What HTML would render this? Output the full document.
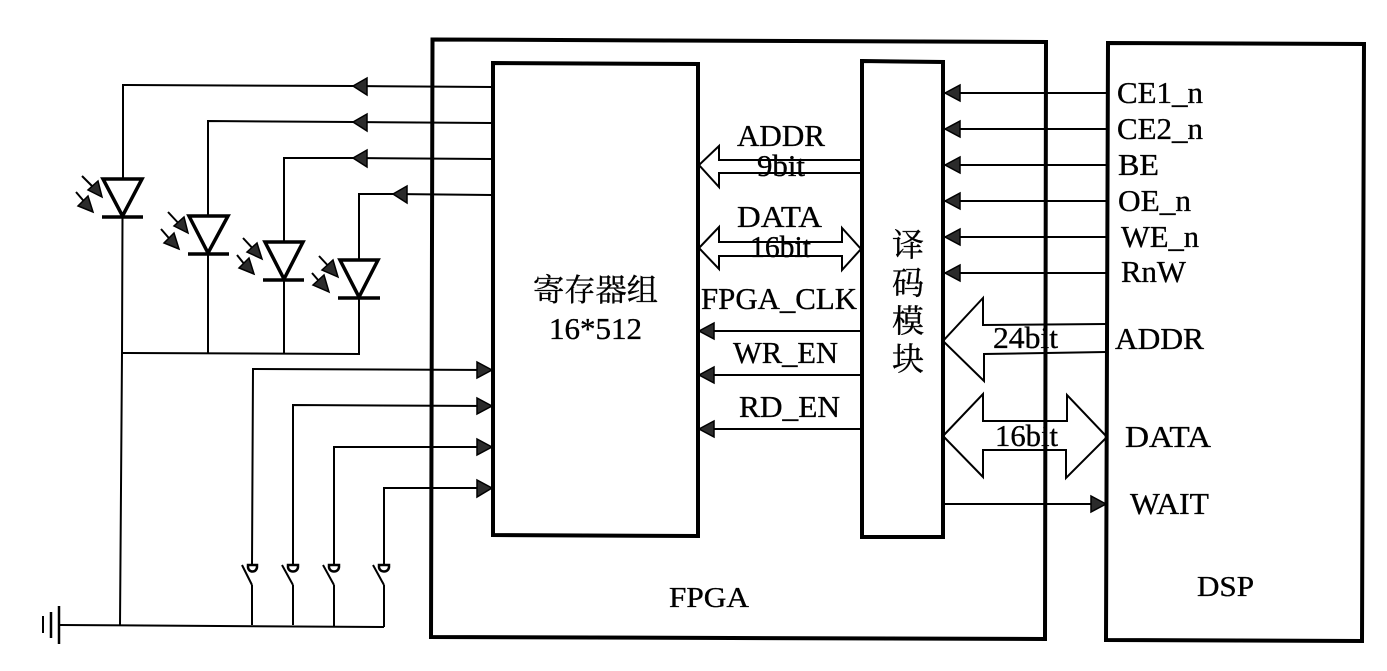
<!DOCTYPE html>
<html><head><meta charset="utf-8"><style>
html,body{margin:0;padding:0;background:#fff}
svg{display:block}
text{font-family:"Liberation Serif","Noto Serif CJK SC",serif;fill:#000;stroke:#000;stroke-width:.35px;font-size:31px}
</style></head><body>
<svg width="1387" height="671" viewBox="0 0 1387 671" xmlns="http://www.w3.org/2000/svg">
<rect width="1387" height="671" fill="#fff"/>
<g fill="none" stroke="#000">
<!-- boxes -->
<g stroke-width="4">
<polygon points="432.500,39.500 1046,42 1045,639 431,637"/>
<polygon points="493,63 698,64 698,536 493,535"/>
<polygon points="862,61 943,62 943,537 862,537"/>
<polygon points="1108,43 1364,44 1362,641 1106,640"/>
</g>
<g stroke-width="2">
<!-- LED wires -->
<polyline points="492,87 353,86 123,85 123,179"/>
<polyline points="492,123 353,122 208,121 208,216"/>
<polyline points="492,159 353,158 284,158 284,242"/>
<polyline points="492,195 393,194 359,194 359,260"/>
<polyline points="122.500,218 122,353 120,625"/>
<line x1="208" y1="254" x2="208" y2="353"/>
<line x1="284" y1="280" x2="284" y2="354"/>
<polyline points="359,298 359,354 122,353"/>
<!-- switch wires -->
<polyline points="252,565 253,369 492,370"/>
<polyline points="293,565 293,405 492,406"/>
<polyline points="334,565 334,447 492,447"/>
<polyline points="384,565 384,488 492,488"/>
<polyline points="252,585 252,625"/>
<polyline points="293,585 293,625"/>
<polyline points="334,585 334,626"/>
<polyline points="384,585 384,627"/>
<polyline points="60,625 384,627"/>
<line x1="242" y1="565" x2="252" y2="585"/>
<line x1="282" y1="565" x2="293" y2="585"/>
<line x1="323" y1="565" x2="334" y2="585"/>
<line x1="373" y1="565" x2="384" y2="585"/>
<!-- signals -->
<line x1="699" y1="331" x2="861" y2="331"/>
<line x1="699" y1="375" x2="861" y2="375"/>
<line x1="699" y1="429" x2="861" y2="429"/>
<line x1="945" y1="93" x2="1107" y2="93"/>
<line x1="945" y1="129" x2="1107" y2="129"/>
<line x1="945" y1="165" x2="1107" y2="165"/>
<line x1="945" y1="201" x2="1107" y2="201"/>
<line x1="945" y1="237" x2="1107" y2="237"/>
<line x1="945" y1="273" x2="1107" y2="273"/>
<line x1="943" y1="504" x2="1105" y2="504"/>
<!-- hollow buses -->
<polyline points="861,160 719,160 719,146 699,165 719,187 719,173 861,173"/>
<polygon points="699,248 719,227 719,242 842,242 842,228 861,249 842,270 842,256 719,256 719,269"/>
<polyline points="1106,324 983,325 983,298 943,341 984,381 984,354 1106,352"/>
<polygon points="943,436 983,394 983,421 1067,421 1067,395 1107,437 1066,478 1066,450 983,450 983,477"/>
</g>
<!-- ground -->
<line x1="59" y1="606" x2="59" y2="644" stroke-width="2.500"/>
<line x1="51" y1="612" x2="51" y2="638" stroke-width="2.500"/>
<line x1="43" y1="616" x2="43" y2="633" stroke-width="2"/>
<!-- LEDs -->
<g stroke-width="3.500">
<polygon points="103,179 142,179 122.500,216"/>
<polygon points="189,216 228,216 208,253"/>
<polygon points="265,242 303,242 284,279"/>
<polygon points="340,260 378,260 359,297"/>
</g>
<g stroke-width="3.500">
<line x1="102" y1="217" x2="143" y2="217"/>
<line x1="188" y1="254" x2="229" y2="254"/>
<line x1="263" y1="280" x2="304" y2="280"/>
<line x1="338" y1="298" x2="380" y2="298"/>
</g>
<!-- LED light rays -->
<g stroke-width="2">
<line x1="82" y1="176" x2="96" y2="190"/>
<line x1="76" y1="192" x2="88" y2="206"/>
<line x1="168" y1="212" x2="182" y2="227"/>
<line x1="161" y1="229" x2="174" y2="244"/>
<line x1="243" y1="238" x2="257" y2="253"/>
<line x1="237" y1="255" x2="249" y2="270"/>
<line x1="319" y1="256" x2="333" y2="271"/>
<line x1="312" y1="273" x2="325" y2="288"/>
</g>
<!-- switch contacts -->
<g stroke-width="2.500">
<path d="M248,565 H257 V567 A4.500,4.500 0 0 1 248,567Z"/>
<path d="M288,565 H298 V567 A5,4.500 0 0 1 288,567Z"/>
<path d="M329,565 H339 V567 A5,4.500 0 0 1 329,567Z"/>
<path d="M379,565 H389 V567 A5,4.500 0 0 1 379,567Z"/>
</g>
</g>
<!-- solid arrowheads -->
<g fill="#2b2b2b" stroke="#000" stroke-width="1.500">
<polygon points="353,86 367,78 367,95"/>
<polygon points="353,122 367,114 367,131"/>
<polygon points="353,158 367,150 367,167"/>
<polygon points="393,194 407,186 407,203"/>
<polygon points="492,370 477,362 477,378"/>
<polygon points="492,406 477,398 477,414"/>
<polygon points="492,447 477,439 477,455"/>
<polygon points="492,488 477,480 477,497"/>
<polygon points="699,331 714,323 714,339"/>
<polygon points="699,375 714,367 714,383"/>
<polygon points="699,429 714,421 714,437"/>
<polygon points="945,93 960,85 960,101"/>
<polygon points="945,129 960,121 960,137"/>
<polygon points="945,165 960,157 960,173"/>
<polygon points="945,201 960,193 960,209"/>
<polygon points="945,237 960,229 960,245"/>
<polygon points="945,273 960,265 960,281"/>
<polygon points="1106,504 1091,496 1091,512"/>
<!-- ray heads -->
<polygon points="102,197 88,190 98,181"/>
<polygon points="93,212 78,206 88,196"/>
<polygon points="188,233 174,226 184,217"/>
<polygon points="179,249 164,243 174,233"/>
<polygon points="262,259 247,252 257,243"/>
<polygon points="254,274 239,268 249,258"/>
<polygon points="338,277 322,270 333,260"/>
<polygon points="329,292 313,285 324,275"/>
</g>
<!-- labels -->
<g>
<text x="1117" y="103" textLength="86" lengthAdjust="spacingAndGlyphs">CE1_n</text>
<text x="1117" y="139" textLength="86" lengthAdjust="spacingAndGlyphs">CE2_n</text>
<text x="1118" y="175" textLength="41" lengthAdjust="spacingAndGlyphs">BE</text>
<text x="1118" y="211" textLength="73" lengthAdjust="spacingAndGlyphs">OE_n</text>
<text x="1121" y="247" textLength="78" lengthAdjust="spacingAndGlyphs">WE_n</text>
<text x="1121" y="282" textLength="65" lengthAdjust="spacingAndGlyphs">RnW</text>
<text x="1115" y="349" textLength="89" lengthAdjust="spacingAndGlyphs">ADDR</text>
<text x="1125" y="447" textLength="86" lengthAdjust="spacingAndGlyphs">DATA</text>
<text x="1130" y="514" textLength="79" lengthAdjust="spacingAndGlyphs">WAIT</text>
<text x="993" y="348" textLength="65" lengthAdjust="spacingAndGlyphs">24bit</text>
<text x="995" y="446" textLength="63" lengthAdjust="spacingAndGlyphs">16bit</text>
<text x="737" y="146" textLength="88" lengthAdjust="spacingAndGlyphs">ADDR</text>
<text x="757" y="176" textLength="48" lengthAdjust="spacingAndGlyphs">9bit</text>
<text x="737" y="227" textLength="85" lengthAdjust="spacingAndGlyphs">DATA</text>
<text x="750" y="257" textLength="61" lengthAdjust="spacingAndGlyphs">16bit</text>
<text x="701" y="309" textLength="156" lengthAdjust="spacingAndGlyphs">FPGA_CLK</text>
<text x="733" y="363" textLength="105" lengthAdjust="spacingAndGlyphs">WR_EN</text>
<text x="739" y="417" textLength="101" lengthAdjust="spacingAndGlyphs">RD_EN</text>
<text x="533" y="301" textLength="125" lengthAdjust="spacingAndGlyphs">寄存器组</text>
<text x="549" y="339" textLength="93" lengthAdjust="spacingAndGlyphs">16*512</text>
<text x="669" y="607" textLength="80" lengthAdjust="spacingAndGlyphs" style="font-size:29px">FPGA</text>
<text x="1197" y="596" textLength="57" lengthAdjust="spacingAndGlyphs" style="font-size:29px">DSP</text>
<text x="892" y="256" style="font-size:32px">译</text>
<text x="892" y="294" style="font-size:32px">码</text>
<text x="892" y="332" style="font-size:32px">模</text>
<text x="892" y="370" style="font-size:32px">块</text>
</g>
</svg>
</body></html>
